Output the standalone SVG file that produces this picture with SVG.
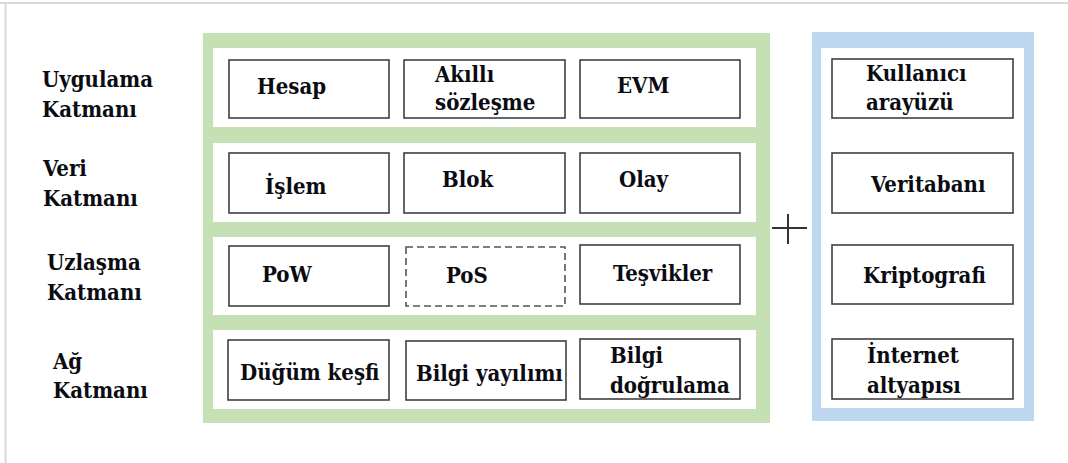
<svg xmlns="http://www.w3.org/2000/svg" width="1068" height="463" viewBox="0 0 1068 463" font-family="'DejaVu Serif Condensed', 'DejaVu Serif', serif" font-stretch="condensed" font-weight="bold" font-size="22">
  <style>
    .frame { stroke: #d9d9d9; stroke-width: 2; fill: none; }
    .band { fill: #ffffff; }
    .box { fill: #ffffff; stroke: #404040; stroke-width: 1.6; }
    .dash { fill: #ffffff; stroke: #555555; stroke-width: 1.6; stroke-dasharray: 7 4; }
    text { fill: #0b0b12; }
    .plus { stroke: #333333; stroke-width: 2; }
  </style>

  <rect width="1068" height="463" fill="#ffffff"/>
  <!-- page frame: top and left edges -->
  <path class="frame" d="M0 3 H1068 M5.5 3 V463"/>

  <!-- layer captions -->
  <g id="layer-labels">
    <text x="42" y="87">Uygulama</text>
    <text x="42" y="117">Katmanı</text>
    <text x="43" y="176">Veri</text>
    <text x="43" y="206">Katmanı</text>
    <text x="47" y="270">Uzlaşma</text>
    <text x="47" y="300">Katmanı</text>
    <text x="53" y="369">Ağ</text>
    <text x="53" y="398">Katmanı</text>
  </g>

  <!-- blockchain stack panel -->
  <g id="core-panel">
    <rect x="203" y="33" width="567" height="390" fill="#c5e0b4"/>
    <rect class="band" x="213" y="48" width="543" height="79"/>
    <rect class="band" x="213" y="143" width="543" height="79"/>
    <rect class="band" x="213" y="237" width="543" height="78"/>
    <rect class="band" x="213" y="330" width="543" height="79"/>
  </g>

  <!-- application layer -->
  <g id="hesap"><rect class="box" x="229" y="60" width="160" height="58"/><text x="257" y="94">Hesap</text></g>
  <g id="akilli-sozlesme"><rect class="box" x="404" y="60" width="161" height="58"/><text x="435" y="82">Akıllı</text><text x="435" y="110">sözleşme</text></g>
  <g id="evm"><rect class="box" x="580" y="60" width="160" height="58"/><text x="617" y="93">EVM</text></g>

  <!-- data layer -->
  <g id="islem"><rect class="box" x="229" y="153" width="160" height="60"/><text x="265" y="194">İşlem</text></g>
  <g id="blok"><rect class="box" x="404" y="153" width="161" height="60"/><text x="442" y="187">Blok</text></g>
  <g id="olay"><rect class="box" x="580" y="153" width="160" height="60"/><text x="619" y="187">Olay</text></g>

  <!-- consensus layer -->
  <g id="pow"><rect class="box" x="229" y="246" width="160" height="60"/><text x="262" y="282">PoW</text></g>
  <g id="pos"><rect class="dash" x="406" y="247" width="159" height="59"/><text x="446" y="283">PoS</text></g>
  <g id="tesvikler"><rect class="box" x="580" y="245" width="160" height="59"/><text x="613" y="281">Teşvikler</text></g>

  <!-- network layer -->
  <g id="dugum-kesfi"><rect class="box" x="228" y="340" width="161" height="60"/><text x="240" y="380">Düğüm keşfi</text></g>
  <g id="bilgi-yayilimi"><rect class="box" x="406" y="341" width="160" height="59"/><text x="416" y="381">Bilgi yayılımı</text></g>
  <g id="bilgi-dogrulama"><rect class="box" x="580" y="339" width="160" height="60"/><text x="610" y="363">Bilgi</text><text x="610" y="393">doğrulama</text></g>

  <!-- combining sign -->
  <g id="connectors">
    <path class="plus" d="M772 228 H807 M788 214 V244"/>
  </g>

  <!-- supporting components panel -->
  <g id="support-panel">
    <rect x="812" y="32" width="222" height="389" fill="#bdd7ee"/>
    <rect class="band" x="821" y="48" width="203" height="360"/>
  </g>
  <g id="kullanici-arayuzu"><rect class="box" x="832" y="59" width="181" height="59"/><text x="866" y="81">Kullanıcı</text><text x="866" y="110">arayüzü</text></g>
  <g id="veritabani"><rect class="box" x="832" y="153" width="181" height="60"/><text x="871" y="192">Veritabanı</text></g>
  <g id="kriptografi"><rect class="box" x="832" y="245" width="181" height="59"/><text x="863" y="283">Kriptografi</text></g>
  <g id="internet-altyapisi"><rect class="box" x="832" y="339" width="181" height="60"/><text x="867" y="363">İnternet</text><text x="867" y="393">altyapısı</text></g>
</svg>
